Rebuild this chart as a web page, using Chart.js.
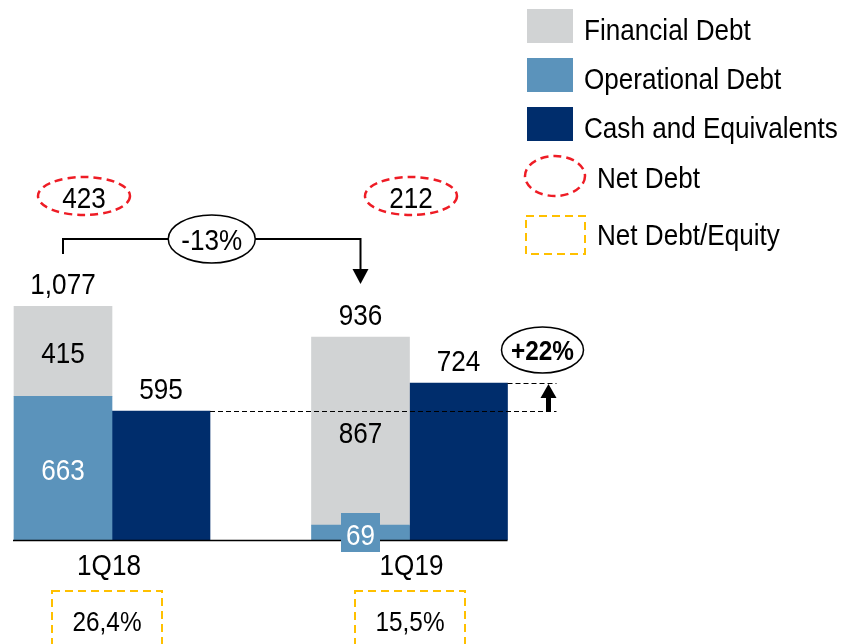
<!DOCTYPE html>
<html><head><meta charset="utf-8">
<script src="https://cdn.jsdelivr.net/npm/chart.js@4.4.1/dist/chart.umd.min.js"></script>
<style>html,body{margin:0;padding:0;background:#fff;}#wrap{width:842px;height:644px;position:relative;overflow:hidden}</style>
</head><body><div id="wrap"><canvas id="c" width="842" height="644"></canvas></div>
<script>
// ---- data ----
const categories = ['1Q18', '1Q19'];
const financialDebt = [415, 867];
const operationalDebt = [663, 69];
const cashEquivalents = [595, 724];
const totalDebtLabels = ['1,077', '936'];
const netDebt = [423, 212];
const netDebtEquity = ['26,4%', '15,5%'];
const netDebtChange = '-13%';
const cashChange = '+22%';
const seriesNames = ['Financial Debt', 'Operational Debt', 'Cash and Equivalents', 'Net Debt', 'Net Debt/Equity'];

// ---- styles ----
const FONT = '"Liberation Sans", Arimo, Arial, sans-serif';
const NARROW = 0.87;
const COL = { fin: '#d1d3d4', op: '#5b93bb', cash: '#002d6c', red: '#ee1c25', yellow: '#ffc000' };

function txt(c, s, x, y, size, color, bold, align) {
  c.save();
  c.font = (bold ? 'bold ' : '') + size + 'px ' + FONT;
  c.fillStyle = color || '#000';
  c.textAlign = align || 'center';
  c.textBaseline = 'alphabetic';
  c.translate(x, y);
  c.scale(NARROW, 1);
  c.fillText(s, 0, 0);
  c.restore();
}
function ellipse(c, cx, cy, rx, ry, stroke, lw, dash, fill) {
  c.save();
  c.beginPath();
  c.ellipse(cx, cy, rx, ry, 0, 0, Math.PI * 2);
  if (fill) { c.fillStyle = fill; c.fill(); }
  c.setLineDash(dash || []);
  c.lineWidth = lw; c.strokeStyle = stroke; c.stroke();
  c.restore();
}
function line(c, pts, color, lw, dash) {
  c.save();
  c.beginPath();
  c.moveTo(pts[0][0], pts[0][1]);
  for (let i = 1; i < pts.length; i++) c.lineTo(pts[i][0], pts[i][1]);
  c.setLineDash(dash || []);
  c.lineWidth = lw; c.strokeStyle = color; c.stroke();
  c.restore();
}
function tri(c, pts, color) {
  c.save(); c.beginPath();
  c.moveTo(pts[0][0], pts[0][1]); c.lineTo(pts[1][0], pts[1][1]); c.lineTo(pts[2][0], pts[2][1]);
  c.closePath(); c.fillStyle = color; c.fill(); c.restore();
}

const annot = {
  id: 'annot',
  afterDatasetsDraw(chart) {
    const c = chart.ctx;
    const xs = chart.scales.x, ys = chart.scales.y;
    const mOp = chart.getDatasetMeta(0), mFin = chart.getDatasetMeta(1), mCash = chart.getDatasetMeta(2);
    const base = ys.getPixelForValue(0);

    // +22% dashed reference lines (drawn over bars)
    const cash0 = mCash.data[0], cash1 = mCash.data[1];
    const arrowX = cash1.x + cash1.width / 2 + 41;
    const y0 = Math.round(cash0.y) + 0.5, y1 = Math.round(cash1.y) + 0.5;
    line(c, [[cash0.x + cash0.width / 2, y0], [arrowX + 8, y0]], '#000', 1, [5, 3]);
    line(c, [[cash1.x + cash1.width / 2, y1], [arrowX + 8, y1]], '#000', 1, [5, 3]);
    // up arrow
    c.save(); c.fillStyle = '#000';
    c.fillRect(arrowX - 2.5, cash1.y + 14, 5, cash0.y - cash1.y - 14);
    c.restore();
    tri(c, [[arrowX - 8, cash1.y + 15], [arrowX + 8, cash1.y + 15], [arrowX, cash1.y + 1]], '#000');
    ellipse(c, arrowX - 6, 350, 41, 23, '#000', 1.5, null, '#fff');
    txt(c, cashChange, arrowX - 6, 360, 28, '#000', true);

    // axis line
    const op0 = mOp.data[0];
    line(c, [[op0.x - op0.width / 2 - 1, base + 0.5], [cash1.x + cash1.width / 2, base + 0.5]], '#000', 1.5);

    for (let i = 0; i < categories.length; i++) {
      const fin = mFin.data[i], op = mOp.data[i], cash = mCash.data[i];
      txt(c, totalDebtLabels[i], fin.x, fin.y - 12, 30);
      txt(c, String(financialDebt[i]), fin.x, (fin.y + fin.base) / 2 + 12, 30);
      const h = op.base - op.y;
      if (h > 40) {
        txt(c, String(operationalDebt[i]), op.x, (op.y + op.base) / 2 + 12, 30, '#fff');
      } else {
        c.save(); c.fillStyle = COL.op; c.fillRect(op.x - 19.5, op.base - 27, 39, 39); c.restore();
        txt(c, String(operationalDebt[i]), op.x, op.base + 5, 30, '#fff');
      }
      txt(c, String(cashEquivalents[i]), cash.x, cash.y - 12, 30);
      const gx = xs.getPixelForValue(i) + (i === 0 ? -3 : 2);
      txt(c, categories[i], gx, 575, 30);
    }

    // Net debt ellipses
    const ndOff = [-28, 1.5];
    for (let i = 0; i < netDebt.length; i++) {
      const gx = xs.getPixelForValue(i) + ndOff[i];
      ellipse(c, gx, 196, 46, 19, COL.red, 2.5, [8, 5]);
      txt(c, String(netDebt[i]), gx, 208, 30);
    }
    // Net debt / equity boxes
    const neOff = [-5, 0.5];
    for (let i = 0; i < netDebtEquity.length; i++) {
      const gx = xs.getPixelForValue(i) + neOff[i];
      c.save(); c.setLineDash([8, 5]); c.lineWidth = 2; c.strokeStyle = COL.yellow;
      c.strokeRect(gx - 55, 591, 110, 80); c.restore();
      txt(c, netDebtEquity[i], gx, 631, 28);
    }

    // -13% bracket
    const a = mFin.data[0].x, b = mFin.data[1].x, by = 239, mid = (a + b) / 2;
    line(c, [[a, 254], [a, by], [b, by], [b, 271]], '#000', 2);
    tri(c, [[b - 8, 269], [b + 8, 269], [b, 284]], '#000');
    ellipse(c, mid, by, 43.5, 24, '#000', 1.5, null, '#fff');
    txt(c, netDebtChange, mid, 250, 30);

    // legend
    const lx = 527, tx = 584;
    const sw = [[COL.fin, 9], [COL.op, 58], [COL.cash, 107]];
    for (let k = 0; k < 3; k++) {
      c.save(); c.fillStyle = sw[k][0]; c.fillRect(lx, sw[k][1], 46, 34); c.restore();
      txt(c, seriesNames[k], tx, sw[k][1] + 31, 30, '#000', false, 'left');
    }
    ellipse(c, 555, 176, 30, 20, COL.red, 2.5, [8, 5]);
    txt(c, seriesNames[3], 597, 188, 30, '#000', false, 'left');
    c.save(); c.setLineDash([8, 5]); c.lineWidth = 2; c.strokeStyle = COL.yellow;
    c.strokeRect(526, 216, 59, 38); c.restore();
    txt(c, seriesNames[4], 597, 245, 30, '#000', false, 'left');
  }
};

new Chart(document.getElementById('c'), {
  type: 'bar',
  data: {
    labels: categories,
    datasets: [
      { label: seriesNames[1], data: operationalDebt, backgroundColor: COL.op, stack: 'debt', clip: false },
      { label: seriesNames[0], data: financialDebt, backgroundColor: COL.fin, stack: 'debt', clip: false },
      { label: seriesNames[2], data: cashEquivalents, backgroundColor: COL.cash, stack: 'cash', clip: false }
    ]
  },
  options: {
    responsive: false, animation: false, devicePixelRatio: 1,
    layout: { padding: { left: 112, right: 432.5, top: 106.6, bottom: 104 } },
    plugins: { legend: { display: false }, tooltip: { enabled: false } },
    datasets: { bar: { barThickness: 98, borderWidth: 0 } },
    scales: {
      x: { display: false, offset: false, stacked: true },
      y: { display: false, stacked: true, min: 0, max: 2000 }
    }
  },
  plugins: [annot]
});
</script></body></html>
